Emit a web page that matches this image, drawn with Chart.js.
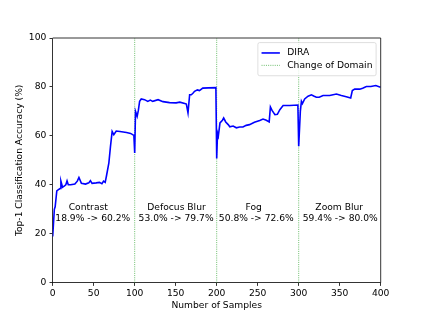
<!DOCTYPE html>
<html><head><meta charset="utf-8">
<script src="https://cdn.jsdelivr.net/npm/chart.js@4/dist/chart.umd.min.js"></script>
<style>html,body{margin:0;padding:0;background:#fff}</style>
</head><body>
<canvas id="c" width="423" height="318"></canvas>
<script>
// ---- data ----
const samples = [0,2,3,5,7,9,10,12,14,16,17.5,19,22,27,30,32,35,40,44,46,48,53,57,60,62,64,65.5,68.5,70.5,72.5,74.5,77.5,82,90,95,99,
  100,101,103,104.5,106,108,112,116,119,122,128.5,134.5,142.5,150.5,155,161,163,165,167,169,171,173,176.5,179,183,190,199,
  200,201,202,204,207,208.5,211,214,216,220,224,228,232,236,240,246,252.5,256.5,260.5,264,265.5,267.5,271,274,277,281,289,299,
  300,302,303.3,304.5,307.3,311.4,315.5,318.3,321.5,325,329.7,337.8,346,352,358,363.4,365.4,368.3,374.4,378,382.5,388,394,398.8,400];
const accuracy = [18.9,30,31,37.5,38,38.5,41.5,39,39.5,40,41.6,40,40,40.3,41.5,43,40.6,40.3,40.8,41.7,40.6,40.8,41,40.5,41.5,41,43.5,49,55.8,61.8,60.5,62,61.8,61.4,61,60.2,
  53.0,70,68,70.5,74.1,75.1,74.8,74.1,74.6,74.1,74.8,74,73.6,73.5,73.8,73.2,73.0,69.4,76.8,76.8,77.4,78.2,78.8,78.5,79.5,79.6,79.7,
  50.8,61.2,60,65.3,66.4,67.3,65.7,64.6,63.7,64,63.3,63.6,63.6,64.3,64.6,65.6,66.3,66.9,66.4,65.7,71.8,70.4,68.7,68.8,70.7,72.4,72.4,72.6,
  55.8,70,74.1,73.2,75.1,76.2,76.8,76.3,75.8,75.8,76.5,76.5,77.1,76.5,76,75.5,78.5,79.1,79.1,79.5,80.2,80.2,80.6,80.0,80.0];
const domainChanges = [100, 200, 300];
const domainNames = ["Contrast", "Defocus Blur", "Fog", "Zoom Blur"];
const domainRanges = ["18.9% -> 60.2%", "53.0% -> 79.7%", "50.8% -> 72.6%", "59.4% -> 80.0%"];
const nameX = [43.4, 151, 245.1, 349.4];
const rangeX = [48.9, 150.5, 248.3, 350.7];
const nameY = 30.8, rangeY = 26.3;
const xMin = 0, xMax = 400, xStep = 50;
const yMin = 0, yMax = 100, yStep = 20;

const FONT = "'DejaVu Sans', 'Liberation Sans', sans-serif";
const FS = 9.17;

const diraData = samples.map((s, i) => ({x: s, y: accuracy[i]}));
const changeData = [];
domainChanges.forEach(d => { changeData.push({x: d, y: yMin}, {x: d, y: yMax}, {x: d, y: null}); });

const framePlugin = {
  id: 'frameAndText',
  afterDatasetsDraw(chart) {
    const ctx = chart.ctx, a = chart.chartArea;
    const xs = chart.scales.x, ys = chart.scales.y;
    ctx.save();
    // annotations
    ctx.fillStyle = '#000';
    ctx.font = FS + 'px ' + FONT;
    ctx.textAlign = 'center';
    ctx.textBaseline = 'middle';
    domainNames.forEach((n, i) => {
      ctx.fillText(n, xs.getPixelForValue(nameX[i]), ys.getPixelForValue(nameY));
      ctx.fillText(domainRanges[i], xs.getPixelForValue(rangeX[i]), ys.getPixelForValue(rangeY));
    });
    // top and right spines
    ctx.strokeStyle = '#000';
    ctx.lineWidth = 0.8;
    ctx.beginPath();
    ctx.moveTo(a.left, a.top); ctx.lineTo(a.right, a.top); ctx.lineTo(a.right, a.bottom);
    ctx.stroke();
    // legend
    const ds = chart.data.datasets;
    const pad = 0.4 * FS, handle = 2 * FS, gap = 0.8 * FS, rowH = 12.4;
    let tw = 0;
    ds.forEach(d => { tw = Math.max(tw, ctx.measureText(d.label).width); });
    const w = pad * 2 + handle + gap + tw;
    const h = pad * 2 + rowH * ds.length + 1;
    const right = a.right - 0.5 * FS, top = a.top + 0.5 * FS;
    const left = right - w;
    const r = 0.2 * FS;
    ctx.beginPath();
    ctx.moveTo(left + r, top);
    ctx.lineTo(right - r, top); ctx.quadraticCurveTo(right, top, right, top + r);
    ctx.lineTo(right, top + h - r); ctx.quadraticCurveTo(right, top + h, right - r, top + h);
    ctx.lineTo(left + r, top + h); ctx.quadraticCurveTo(left, top + h, left, top + h - r);
    ctx.lineTo(left, top + r); ctx.quadraticCurveTo(left, top, left + r, top);
    ctx.closePath();
    ctx.fillStyle = 'rgba(255,255,255,0.8)';
    ctx.fill();
    ctx.strokeStyle = 'rgba(204,204,204,0.8)';
    ctx.lineWidth = 0.8;
    ctx.stroke();
    ds.forEach((d, i) => {
      const cy = top + pad + rowH * (i + 0.5) + 0.5;
      ctx.strokeStyle = d.borderColor;
      ctx.lineWidth = d.borderWidth;
      ctx.setLineDash(d.borderDash || []);
      ctx.beginPath();
      ctx.moveTo(left + pad, cy); ctx.lineTo(left + pad + handle, cy);
      ctx.stroke();
      ctx.setLineDash([]);
      ctx.fillStyle = '#000';
      ctx.textAlign = 'left';
      ctx.fillText(d.label, left + pad + handle + gap, cy);
    });
    ctx.restore();
  }
};

new Chart(document.getElementById('c'), {
  type: 'line',
  data: {
    datasets: [
      {label: 'DIRA', data: diraData, borderColor: '#0000ff', borderWidth: 1.6, pointRadius: 0, tension: 0, fill: false},
      {label: 'Change of Domain', data: changeData, borderColor: '#2ca02c', borderWidth: 0.7, borderDash: [1, 1.2], pointRadius: 0, spanGaps: false, fill: false}
    ]
  },
  options: {
    responsive: false,
    animation: false,
    devicePixelRatio: 1,
    layout: {padding: {left: 15.2, top: 38, right: 42.3, bottom: 7.4}},
    plugins: {legend: {display: false}, tooltip: {enabled: false}},
    scales: {
      x: {
        type: 'linear', min: xMin, max: xMax,
        ticks: {stepSize: xStep, color: '#000', font: {family: FONT, size: FS}, padding: 2.5, maxRotation: 0},
        grid: {drawOnChartArea: false, drawTicks: true, tickLength: 3.2, color: '#000', lineWidth: 0.8},
        border: {display: true, color: '#000', width: 0.8},
        title: {display: true, text: 'Number of Samples', color: '#000', font: {family: FONT, size: FS, lineHeight: 1}, padding: 0},
        afterFit(s) { s.height = 27.9; }
      },
      y: {
        type: 'linear', min: yMin, max: yMax,
        ticks: {stepSize: yStep, color: '#000', font: {family: FONT, size: FS}, padding: 3.2},
        grid: {drawOnChartArea: false, drawTicks: true, tickLength: 3.2, color: '#000', lineWidth: 0.8},
        border: {display: true, color: '#000', width: 0.8},
        title: {display: true, text: 'Top-1 Classification Accuracy (%)', color: '#000', font: {family: FONT, size: FS, lineHeight: 1}, padding: 0},
        afterFit(s) { s.width = 37.5; }
      }
    }
  },
  plugins: [framePlugin]
});
</script>
</body></html>
